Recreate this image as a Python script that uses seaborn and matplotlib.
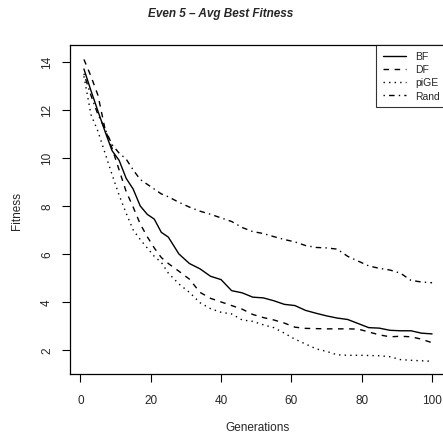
import seaborn as sns
import pandas as pd
import matplotlib.pyplot as plt

generations = [1, 3, 5, 7, 9, 11, 13, 15, 17, 19, 21, 23, 25, 28, 31, 34, 37, 40, 43,
               46, 49, 52, 55, 58, 61, 64, 67, 70, 73, 76, 79, 82, 85, 88, 91, 94, 97, 100]

bf = [13.7, 12.8, 11.94, 11.1, 10.3, 9.9, 9.15, 8.7, 8.0, 7.65, 7.45, 6.9, 6.7, 6.0, 5.6,
      5.38, 5.07, 4.93, 4.47, 4.38, 4.2, 4.17, 4.05, 3.9, 3.85, 3.65, 3.53, 3.42, 3.33,
      3.27, 3.1, 2.93, 2.91, 2.82, 2.8, 2.8, 2.7, 2.67]
df_ = [14.1, 13.4, 12.6, 11.2, 10.4, 9.5, 8.6, 7.95, 7.25, 6.72, 6.25, 5.85, 5.6, 5.28, 4.95,
       4.4, 4.15, 4.0, 3.85, 3.7, 3.48, 3.35, 3.25, 3.12, 2.95, 2.9, 2.89, 2.88, 2.88,
       2.88, 2.87, 2.75, 2.63, 2.55, 2.57, 2.55, 2.45, 2.3]
pige = [13.4, 11.8, 11.1, 10.2, 9.3, 8.45, 7.7, 7.0, 6.6, 6.25, 5.9, 5.65, 5.2, 4.75, 4.4,
        3.97, 3.72, 3.57, 3.5, 3.25, 3.19, 3.05, 2.93, 2.7, 2.45, 2.25, 2.05, 1.94, 1.8,
        1.78, 1.78, 1.77, 1.76, 1.72, 1.6, 1.57, 1.55, 1.53]
rand = [13.5, 12.6, 11.8, 11.2, 10.55, 10.2, 9.95, 9.5, 9.1, 8.9, 8.7, 8.5, 8.38, 8.15, 7.95,
        7.78, 7.65, 7.5, 7.35, 7.1, 6.93, 6.85, 6.72, 6.6, 6.5, 6.35, 6.27, 6.25, 6.2,
        5.9, 5.7, 5.5, 5.4, 5.33, 5.2, 4.9, 4.83, 4.8]

series_names = ['BF', 'DF', 'piGE', 'Rand']
x_ticks = [0, 20, 40, 60, 80, 100]
y_ticks = [2, 4, 6, 8, 10, 12, 14]

# long format for seaborn
data = pd.concat([
    pd.DataFrame({'Generations': generations, 'Fitness': vals, 'method': name})
    for name, vals in zip(series_names, [bf, df_, pige, rand])
])

sns.set_style('ticks')
plt.rcParams['font.family'] = ['Liberation Sans', 'DejaVu Sans']

W, H = 443, 439
fig = plt.figure(figsize=(W / 100, H / 100), dpi=100)
# plot region in pixels: left 70, right 446 (runs past the edge like the original), top 46, bottom 375
ax = fig.add_axes([70 / W, (H - 375) / H, (446 - 70) / W, (375 - 46) / H])

sns.lineplot(data=data, x='Generations', y='Fitness', hue='method', style='method',
             palette=['black'] * 4,
             dashes={'BF': '', 'DF': (4, 4), 'piGE': (1, 3), 'Rand': (1, 3, 4, 3)},
             linewidth=1, ax=ax)

ax.set_xlim(-2.96, 103.96)
ax.set_ylim(1.0, 14.7)
ax.set_xticks(x_ticks)
ax.set_yticks(y_ticks)
ax.tick_params(axis='both', length=5.5, width=0.8, labelsize=8.5, color='black')
ax.tick_params(axis='x', pad=9)
ax.tick_params(axis='y', pad=11)
for lab in ax.get_yticklabels():
    lab.set_rotation(90)
    lab.set_ha('center')
    lab.set_va('center')
for sp in ax.spines.values():
    sp.set_visible(True)
    sp.set_linewidth(0.9)
    sp.set_color('black')

ax.set_xlabel('Generations', fontsize=8.5, va='center')
ax.set_ylabel('Fitness', fontsize=8.5, va='center')
ax.xaxis.set_label_coords(0.5, (375 - 428) / 329)
ax.yaxis.set_label_coords((17 - 70) / 376, 0.5)

handles, labels = ax.get_legend_handles_labels()
leg = ax.legend(handles, labels, loc='upper right', fontsize=7.5, frameon=True,
                fancybox=False, edgecolor='black', borderaxespad=0,
                handlelength=2.2, labelspacing=0.3, handletextpad=0.9,
                borderpad=0.6)
leg.get_frame().set_linewidth(0.8)

fig.text(221 / W, 1 - 14 / H, 'Even 5 \u2013 Avg Best Fitness', ha='center', va='center',
         fontsize=8.5, fontweight='bold', fontstyle='italic')

fig.savefig('out.png', dpi=100)
